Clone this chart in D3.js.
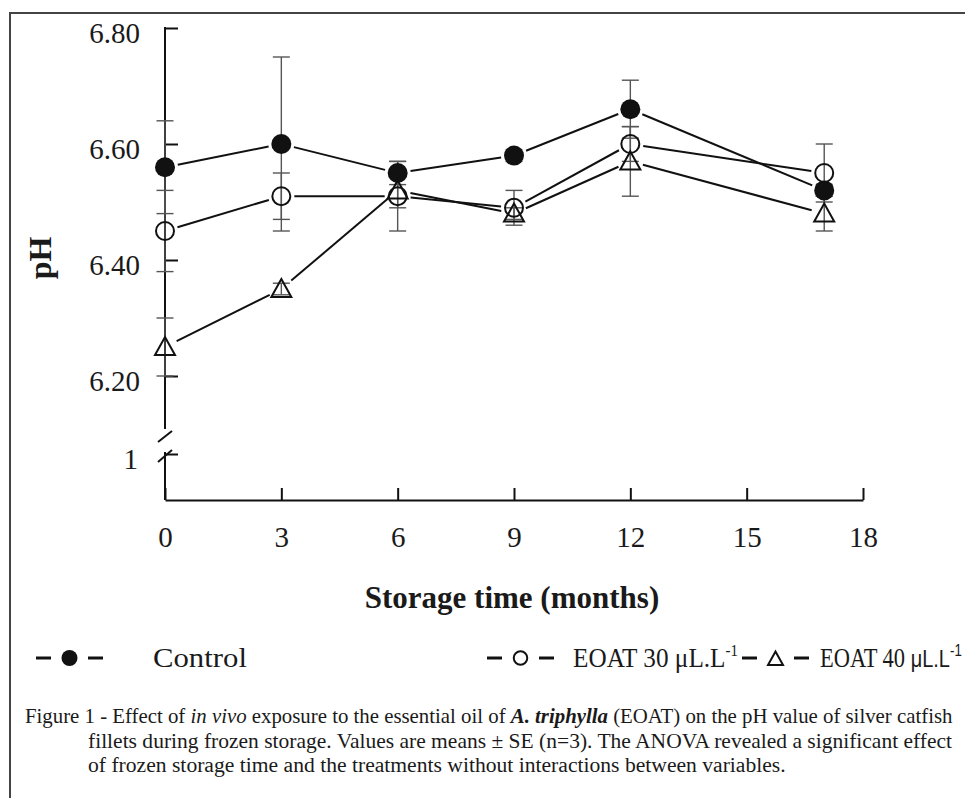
<!DOCTYPE html>
<html><head><meta charset="utf-8">
<script src="https://cdn.jsdelivr.net/npm/d3@7"></script>
<style>
body{margin:0;background:#fff}
svg{display:block}
text{font-family:"Liberation Serif","Times New Roman",serif;fill:#1a1a1a}
</style>
</head><body>
<svg id="c" width="965" height="798"></svg>
<script>
// ---- data ----
const months = [0, 3, 6, 9, 12, 17];
const xTicks = [0, 3, 6, 9, 12, 15, 18];
const yTicks = [6.20, 6.40, 6.60, 6.80];
const yBreakTicks = [1];
const seriesNames = ["Control", "EOAT 30 μL.L", "EOAT 40 μL.L"];
const controlMean = [6.56, 6.60, 6.55, 6.58, 6.66, 6.52];
const controlSE   = [0.08, 0.15, 0.02, 0.01, 0.05, 0.01];
const eoat30Mean  = [6.45, 6.51, 6.51, 6.49, 6.60, 6.55];
const eoat30SE    = [0.07, 0.04, 0.06, 0.03, 0.03, 0.05];
const eoat40Mean  = [6.25, 6.35, 6.52, 6.48, 6.57, 6.48];
const eoat40SE    = [0.05, 0.01, 0.03, 0.01, 0.06, 0.03];
const xTitle = "Storage time (months)";
const yTitle = "pH";

const series = [
  {name: seriesNames[0], mean: controlMean, se: controlSE, shape: "filled"},
  {name: seriesNames[1], mean: eoat30Mean, se: eoat30SE, shape: "open"},
  {name: seriesNames[2], mean: eoat40Mean, se: eoat40SE, shape: "tri"}
];

const svg = d3.select("#c");
// frame
svg.append("path").attr("d", "M10,800 V13 H970").attr("fill", "none")
  .attr("stroke", "#444").attr("stroke-width", 2);

const x = d3.scaleLinear().domain([0, 18]).range([165, 863]);
const y = d3.scaleLinear().domain([6.2, 6.8]).range([376, 28]);
const yLow = d3.scaleLinear().domain([0, 1]).range([500, 454]);

// helper: horizontally fit a text group to target width
function fit(g, x0, y0, target) {
  const bb = g.node().getBBox();
  const s = target / bb.width;
  g.attr("transform", `translate(${x0},${y0}) scale(${s},1)`);
}

// y axis main
const gy = svg.append("g").attr("transform", "translate(165,0)")
  .call(d3.axisLeft(y).tickValues(yTicks).tickFormat(d3.format(".2f")).tickSize(-13).tickPadding(25));
gy.select(".domain").remove();
gy.selectAll(".tick line").attr("stroke", "#111").attr("stroke-width", 2);
gy.selectAll(".tick text").attr("font-size", 29).attr("dy", "0.5em")
  .attr("font-family", "Liberation Serif").attr("fill", "#1a1a1a");

const gyl = svg.append("g").attr("transform", "translate(165,0)")
  .call(d3.axisLeft(yLow).tickValues(yBreakTicks).tickFormat(d3.format("d")).tickSize(-13).tickPadding(27));
gyl.select(".domain").remove();
gyl.selectAll(".tick line").attr("stroke", "#111").attr("stroke-width", 2);
gyl.selectAll(".tick text").attr("font-size", 29).attr("dy", "0.5em")
  .attr("font-family", "Liberation Serif").attr("fill", "#1a1a1a");

// y axis line with break
const axG = svg.append("g").attr("stroke", "#111").attr("stroke-width", 2).attr("fill", "none");
axG.append("line").attr("x1", 165).attr("x2", 165).attr("y1", y(6.8) - 1).attr("y2", 429);
axG.append("line").attr("x1", 165).attr("x2", 165).attr("y1", 452).attr("y2", 500);
axG.append("line").attr("x1", 158).attr("y1", 442).attr("x2", 172).attr("y2", 431);
axG.append("line").attr("x1", 158).attr("y1", 462).attr("x2", 172).attr("y2", 450);

// x axis
const gx = svg.append("g").attr("transform", "translate(0,500)")
  .call(d3.axisBottom(x).tickValues(xTicks).tickSize(-12).tickSizeOuter(0).tickPadding(26));
gx.select(".domain").attr("stroke", "#111").attr("stroke-width", 2);
gx.selectAll(".tick line").attr("stroke", "#111").attr("stroke-width", 2);
gx.selectAll(".tick text").attr("font-size", 29)
  .attr("font-family", "Liberation Serif").attr("fill", "#1a1a1a");

// axis titles
svg.append("text").attr("x", 512).attr("y", 608).attr("text-anchor", "middle")
  .attr("font-size", 31).attr("font-weight", "bold").text(xTitle);
svg.append("text").attr("transform", "translate(51,258) rotate(-90)").attr("text-anchor", "middle")
  .attr("font-size", 32).attr("font-weight", "bold").text(yTitle);

// connecting lines with gaps around markers
const gap = 13;
const lineG = svg.append("g").attr("stroke", "#111").attr("stroke-width", 2);
series.forEach(s => {
  for (let i = 0; i < months.length - 1; i++) {
    const x1 = x(months[i]), y1 = y(s.mean[i]);
    const x2 = x(months[i + 1]), y2 = y(s.mean[i + 1]);
    const dx = x2 - x1, dy = y2 - y1, L = Math.hypot(dx, dy);
    if (L < 2 * gap) continue;
    const ux = dx / L, uy = dy / L;
    lineG.append("line").attr("x1", x1 + ux * gap).attr("y1", y1 + uy * gap)
      .attr("x2", x2 - ux * gap).attr("y2", y2 - uy * gap);
  }
});

// error bars
const ebG = svg.append("g").attr("stroke", "#555").attr("stroke-width", 1.4);
series.forEach(s => {
  months.forEach((m, i) => {
    const cx = x(m), top = y(s.mean[i] + s.se[i]), bot = y(s.mean[i] - s.se[i]);
    ebG.append("line").attr("x1", cx).attr("x2", cx).attr("y1", top).attr("y2", bot);
    ebG.append("line").attr("x1", cx - 8.5).attr("x2", cx + 8.5).attr("y1", top).attr("y2", top);
    ebG.append("line").attr("x1", cx - 8.5).attr("x2", cx + 8.5).attr("y1", bot).attr("y2", bot);
  });
});

// markers
function marker(g, shape, cx, cy, sc) {
  if (shape === "filled") {
    g.append("circle").attr("cx", cx).attr("cy", cy).attr("r", 10 * sc).attr("fill", "#111");
  } else if (shape === "open") {
    g.append("circle").attr("cx", cx).attr("cy", cy).attr("r", 9 * sc).attr("fill", "none")
      .attr("stroke", "#111").attr("stroke-width", 2);
  } else {
    const h = sc;
    g.append("path").attr("d", `M${cx},${cy - 10 * h} L${cx + 10 * h},${cy + 8 * h} L${cx - 10 * h},${cy + 8 * h} Z`)
      .attr("fill", "none").attr("stroke", "#111").attr("stroke-width", 2).attr("stroke-linejoin", "miter");
  }
}
const mG = svg.append("g");
series.forEach(s => {
  months.forEach((m, i) => marker(mG, s.shape, x(m), y(s.mean[i]), 1));
});

// legend
const legY = 658;
const legSym = [36, 487, 742];
const legText = [[153, 94], [573, 165], [820, 142]];
const lg = svg.append("g");
series.forEach((s, k) => {
  const x0 = legSym[k];
  lg.append("line").attr("x1", x0).attr("x2", x0 + 15).attr("y1", legY).attr("y2", legY)
    .attr("stroke", "#111").attr("stroke-width", 3);
  lg.append("line").attr("x1", x0 + 52).attr("x2", x0 + 67).attr("y1", legY).attr("y2", legY)
    .attr("stroke", "#111").attr("stroke-width", 3);
  marker(lg, s.shape, x0 + 33.5, legY + (s.shape === "tri" ? 1 : 0), s.shape === "filled" ? 0.8 : 0.75);
  const tg = lg.append("g");
  const t = tg.append("text").attr("x", 0).attr("y", 0).attr("font-size", 27);
  if (k === 0) {
    t.text(s.name);
  } else {
    const parts = s.name.split(" ");
    t.append("tspan").text(parts[0] + " " + parts[1] + " ");
    const mu = t.append("tspan").text(parts[2]);
    if (k === 2) mu.attr("font-family", "Liberation Sans, Arial, sans-serif").attr("font-size", 24);
    t.append("tspan").attr("font-size", 16).attr("dy", -11)
      .attr("font-family", k === 2 ? "Liberation Sans, Arial, sans-serif" : null).text("-1");
  }
  fit(tg, legText[k][0], legY + 9, legText[k][1]);
});

// caption
const cap = svg.append("g");
function capLine(x0, y0, target, pieces) {
  const g = cap.append("g");
  const t = g.append("text").attr("font-size", 20);
  pieces.forEach(p => {
    const ts = t.append("tspan").text(p[0]);
    if (p[1] === "i") ts.attr("font-style", "italic");
    if (p[1] === "bi") ts.attr("font-style", "italic").attr("font-weight", "bold");
  });
  fit(g, x0, y0, target);
}
capLine(25, 723, 928, [["Figure 1 - Effect of "], ["in vivo", "i"], [" exposure to the essential oil of "],
  ["A. triphylla", "bi"], [" (EOAT) on the pH value of silver catfish"]]);
capLine(88, 748, 865, [["fillets during frozen storage. Values are means ± SE (n=3). The ANOVA revealed a significant effect"]]);
capLine(88, 772, 698, [["of frozen storage time and the treatments without interactions between variables."]]);
</script>
</body></html>
